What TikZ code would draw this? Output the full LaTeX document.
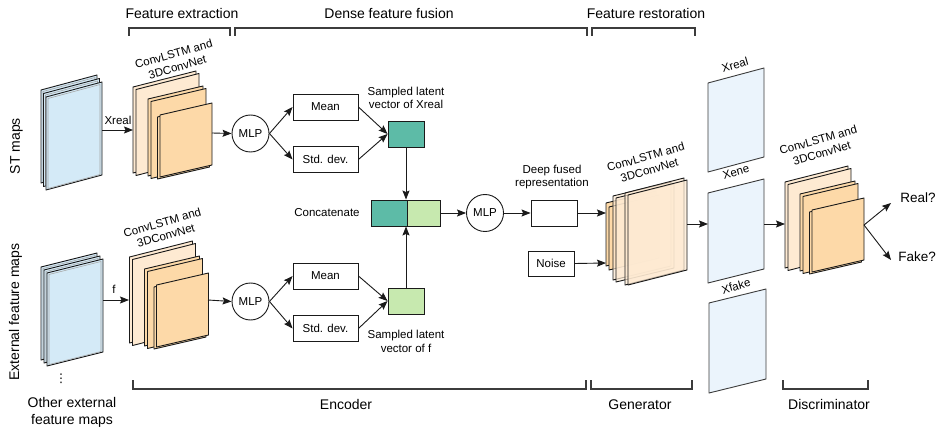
\documentclass[tikz,border=0pt]{standalone}
\usepackage{fontspec}
\setmainfont{Liberation Sans}
\newfontfamily\dejavu{DejaVu Sans}
\usetikzlibrary{arrows.meta}
\definecolor{pgblue}{HTML}{D4EAF7}
\definecolor{pglight}{HTML}{EBF4FC}
\definecolor{orlight}{HTML}{FEEAD2}
\definecolor{ordark}{HTML}{FDD9A8}
\definecolor{tealc}{HTML}{5DBBA7}
\definecolor{greenc}{HTML}{C7E9AF}
\definecolor{lin}{HTML}{1A1A1A}
\newcommand\mypage[6]{\filldraw[#6] (#1,#2) -- ++(#3,-#5) -- ++(0,#4) -- ++(-#3,#5) -- cycle;}
\newcommand\bluepage[5]{\mypage{#1}{#2}{#3}{#4}{#5}{bpage}
 \draw[draw=gray!70, line width=0.6pt] (#1+2,#2+1.5) -- ++(#3-4,-#5+1) -- ++(0,#4-3) -- ++(-#3+4,#5-1) -- cycle;}
\newcommand\convstack[2]{\begin{scope}[shift={(#1,#2)}]
 \mypage{133}{87}{63}{86}{16}{stk,fill=orlight}
 \mypage{136}{89.5}{63}{86}{16}{stk,fill=orlight}
 \mypage{148}{99}{55}{77}{13}{stk,fill=ordark}
 \mypage{151}{101.5}{55}{77}{13}{stk,fill=ordark}
 \mypage{157.5}{117}{52}{62}{12}{stk,fill=ordark}
 \mypage{160}{115}{52}{62}{12}{stk,fill=ordark}
\end{scope}}
\tikzset{
 stk/.style={draw=lin, line width=0.9pt, line join=round},
 bpage/.style={draw=lin, line width=0.9pt, fill=pgblue, line join=round},
 xpage/.style={draw=lin!85, line width=0.9pt, fill=pglight, line join=round},
 arr/.style={draw=lin, line width=0.9pt, -{Stealth[length=9pt,width=7pt,inset=1.5pt]}},
 box/.style={draw=lin, line width=0.9pt, fill=white, rectangle, inner sep=0pt, minimum width=65pt, minimum height=26pt, font=\fontsize{11.5}{14}\selectfont},
 sq/.style={draw=lin, line width=0.9pt, rectangle, inner sep=0pt, minimum width=36pt, minimum height=26pt},
 circ/.style={draw=lin, line width=0.9pt, circle, inner sep=0pt, minimum size=37pt, font=\fontsize{11.5}{14}\selectfont},
 small/.style={font=\fontsize{11.5}{13.5}\selectfont, inner sep=0pt, align=center},
 big/.style={font=\fontsize{14}{17}\selectfont, inner sep=0pt, align=center},
 brk/.style={draw=lin!85, line width=1.2pt},
}
\begin{document}
\begin{tikzpicture}[x=1pt,y=-1pt]
\useasboundingbox (0,0) rectangle (941,430);
\fill[white] (0,0) rectangle (941,430);

% headings and brackets
\node[big] (h1) at (182,13) {Feature extraction};
\node[big] (h2) at (389,13) {Dense feature fusion};
\node[big] (h3) at (646,13) {Feature restoration};
\draw[brk] (129,36) -- (129,28) -- (230,28) -- (230,36);
\draw[brk] (235,36) -- (235,28) -- (587,28) -- (587,36);
\draw[brk] (592,36) -- (592,28) -- (695,28) -- (695,36);
\draw[brk] (133,380) -- (133,389) -- (586,389) -- (586,380);
\draw[brk] (591,380) -- (591,389) -- (692,389) -- (692,380);
\draw[brk] (783,380) -- (783,389) -- (868,389) -- (868,380);
\node[big] (f1) at (346,404) {Encoder};
\node[big] (f2) at (640,405) {Generator};
\node[big] (f3) at (829,404) {Discriminator};

% side labels
\node[big, rotate=90] (stl) at (16.5,146) {ST maps};
\node[big, rotate=90] (exl) at (15.5,312) {External feature maps};
\node[big] (oth) at (72,412) {Other external\\feature maps};
\node[inner sep=0pt] (dots) at (61,379) {\dejavu\fontsize{12}{12}\selectfont ⋮};

% input stacks
\bluepage{41}{90}{56}{93}{15}
\bluepage{43.5}{93.5}{56}{93}{15}
\bluepage{46}{97}{56}{93}{15}
\bluepage{41}{267}{56}{93}{14}
\bluepage{44}{270}{56}{93}{14}
\bluepage{47}{273}{56}{93}{14}

% encoder conv stacks
\convstack{0}{0}
\convstack{-3.5}{170}
\node[small, rotate=16] (cl1) at (175.5,60.5) {ConvLSTM and\\3DConvNet};
\node[small, rotate=16] (cl2) at (164,229) {ConvLSTM and\\3DConvNet};

\coordinate (stA-in) at (133,130);
\coordinate (stA-out) at (212,133);
\coordinate (stB-in) at (129,300);
\coordinate (stB-out) at (208,300);
\coordinate (inA) at (102,130);
\coordinate (inB) at (103,300);
\draw[arr] (inA) -- (stA-in);
\draw[arr] (inB) -- (stB-in);
\node[small] (xr) at (118,120) {Xreal};
\node[small] (fl) at (114,289) {f};

% fusion
\node[circ] (mlp1) at (250.5,133.5) {MLP};
\node[box] (mean1) at (325.5,107) {Mean};
\node[box] (std1) at (325.5,159.5) {Std. dev.};
\node[sq, fill=tealc] (lat1) at (406,134) {};
\node[small] (lat1l) at (406,98) {Sampled latent\\vector of Xreal};
\node[circ] (mlp2) at (250.5,301.5) {MLP};
\node[box] (mean2) at (325.5,276) {Mean};
\node[box] (std2) at (325.5,328.5) {Std. dev.};
\node[sq, fill=greenc] (lat2) at (406,301) {};
\node[small] (lat2l) at (406,341.5) {Sampled latent\\vector of f};
\node[sq, fill=tealc] (catA) at (389,213) {};
\node[sq, fill=greenc, minimum width=33pt] (catB) at (423.5,213) {};
\node[small] (catl) at (327,213) {Concatenate};
\node[circ] (mlp3) at (485,213) {MLP};
\node[box, minimum width=46pt] (deep) at (554,213) {};
\node[small] (deepl) at (552,177) {Deep fused\\representation};
\node[box, minimum width=46pt, minimum height=25pt] (noise) at (551,263.5) {Noise};

\draw[arr] (stA-out) -- (mlp1.west);
\draw[arr] (stB-out) -- (mlp2.west);
\draw[arr] (mlp1.east) -- (mean1.west);
\draw[arr] (mlp1.east) -- (std1.west);
\draw[arr] (mean1.east) -- (lat1.west);
\draw[arr] (std1.east) -- (lat1.west);
\draw[arr] (mlp2.east) -- (mean2.west);
\draw[arr] (mlp2.east) -- (std2.west);
\draw[arr] (mean2.east) -- (lat2.west);
\draw[arr] (std2.east) -- (lat2.west);
\draw[arr] (lat1.south) -- (lat1.south |- catA.north);
\draw[arr] (lat2.north) -- (lat2.north |- catA.south);
\draw[arr] (catB.east) -- (mlp3.west);
\draw[arr] (mlp3.east) -- (deep.west);

% generator stack
\mypage{606}{203}{50}{63}{12}{stk,fill=ordark}
\mypage{609}{207}{50}{63}{12}{stk,fill=ordark}
\mypage{613}{196}{58}{84}{14}{stk,fill=orlight,fill opacity=0.7}
\mypage{616}{198}{58}{84}{14}{stk,fill=orlight,fill opacity=0.7}
\mypage{625}{193}{59}{92}{15}{stk,fill=orlight,fill opacity=0.7}
\mypage{628}{195}{59}{90}{15}{stk,fill=orlight,fill opacity=0.7}
\node[small, rotate=16] (cl3) at (647.5,163.5) {ConvLSTM and\\3DConvNet};
\coordinate (gin1) at (606,213);
\coordinate (gin2) at (606,263);
\coordinate (gout) at (687,224);
\draw[arr] (deep.east) -- (gin1);
\draw[arr] (noise.east) -- (gin2);

% X pages
\mypage{708}{83}{56}{89}{15}{xpage}
\mypage{708}{193}{56}{90}{14}{xpage}
\mypage{709}{303}{57}{90}{14}{xpage}
\node[small, rotate=16] (xrl) at (735,65) {Xreal};
\node[small, rotate=16] (xel) at (736,172) {Xene};
\node[small, rotate=16] (xfl) at (736,286) {Xfake};
\coordinate (xin) at (708,224);
\coordinate (xout) at (764,224);
\draw[arr] (gout) -- (xin);

% discriminator stack
\convstack{652}{95}
\node[small, rotate=16] (cl4) at (820,146.5) {ConvLSTM and\\3DConvNet};
\coordinate (din) at (785,224);
\coordinate (dout) at (864,225);
\draw[arr] (xout) -- (din);
\node[inner sep=0pt, font=\fontsize{13.5}{16}\selectfont] (real) at (918,198) {Real?};
\node[inner sep=0pt, font=\fontsize{13.5}{16}\selectfont] (fake) at (917,257) {Fake?};
\coordinate (realtip) at (891,203);
\coordinate (faketip) at (891,260);
\draw[arr] (dout) -- (realtip);
\draw[arr] (dout) -- (faketip);
\end{tikzpicture}
\end{document}
